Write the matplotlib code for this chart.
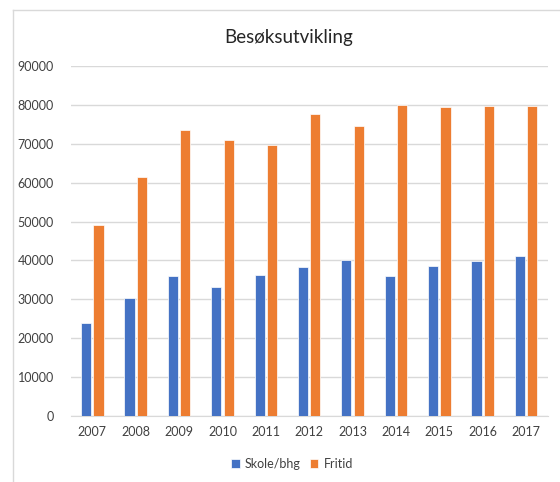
import numpy as np
import matplotlib.pyplot as plt
from matplotlib.lines import Line2D

# data
years = ["2007", "2008", "2009", "2010", "2011", "2012", "2013", "2014", "2015", "2016", "2017"]
skole = [24000, 30300, 36100, 33100, 36300, 38400, 40200, 36100, 38700, 39900, 41100]
fritid = [49000, 61500, 73500, 71100, 69700, 77700, 74700, 80000, 79400, 79700, 79700]

plt.rcParams['font.family'] = ['Lato', 'DejaVu Sans']

fig = plt.figure(figsize=(5.6, 4.82), dpi=100)
ax = fig.add_axes([70.7/560, 1-416/482, (547.7-70.7)/560, 350/482])

x = np.arange(len(years))
w = 0.235
ax.bar(x - 0.143, skole, w, color='#4472C4', edgecolor='white', linewidth=0.5, label='Skole/bhg', zorder=3)
ax.bar(x + 0.143, fritid, w, color='#ED7D31', edgecolor='white', linewidth=0.5, label='Fritid', zorder=3)

ax.set_xlim(-0.5, len(years) - 0.5)
ax.set_ylim(0, 90000)
ax.set_yticks(np.arange(0, 90001, 10000))
ax.set_xticks(x)
ax.set_xticklabels(years)
ax.grid(axis='y', color='#D9D9D9', linewidth=1, zorder=0)
for s in ['top', 'right', 'left']:
    ax.spines[s].set_visible(False)
ax.spines['bottom'].set_color('#D9D9D9')
ax.tick_params(length=0, labelsize=9, colors='#404040', pad=7)
ax.tick_params(axis='y', pad=12)

fig.text(288.5/560, 1 - 37/482, "Besøksutvikling", ha='center', va='center',
         fontsize=13.5, color='#262626')

ax.legend(loc='center', bbox_to_anchor=((292-70.7)/477, -(464-416)/350), ncol=2, frameon=False,
          fontsize=9, handlelength=0.7, handleheight=0.7, handletextpad=0.4, columnspacing=0.7,
          labelcolor='#404040')

# chart frame (left and top edges visible)
fig.add_artist(Line2D([13/560, 13/560], [0, 1 - 10/482], color='#D9D9D9', linewidth=1))
fig.add_artist(Line2D([13/560, 1], [1 - 10/482, 1 - 10/482], color='#D9D9D9', linewidth=1))

fig.savefig("out.png", dpi=100)
